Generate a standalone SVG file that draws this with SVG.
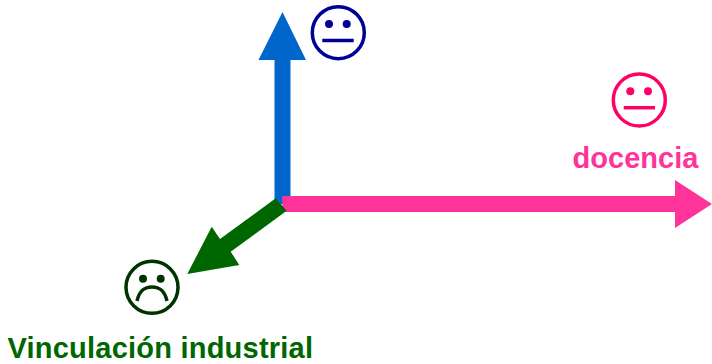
<svg xmlns="http://www.w3.org/2000/svg" width="712" height="364" viewBox="0 0 712 364">
<style>
text{font-family:"Liberation Sans",Arial,sans-serif;font-weight:bold;font-size:29px}
.f{fill:none;stroke-width:3.5}
.m{fill:none;stroke-width:3.5}
</style>
<rect width="712" height="364" fill="#fff"/>
<g id="connectors">
<path fill="#0066cc" d="M282.5 12L306 60H290.5V204H274.5V60H258.5Z"/>
<path fill="#ff3399" d="M282.3 196H675V180L712 204L675 228V212H282.3Z"/>
<path fill="#006600" d="M275.7 198.3L286.7 210.7L230.7 251.7L239.3 265L187.3 274L211.7 226.7L220 239Z"/>
</g>
<g id="node-neutral-blue" stroke="#000099" fill="#000099">
<circle class="f" cx="338.3" cy="32.7" r="26"/>
<circle cx="329" cy="24" r="4" stroke="none"/>
<circle cx="346.7" cy="24" r="4" stroke="none"/>
<path class="m" d="M322.3 40.5H353.7"/>
</g>
<g id="node-docencia" stroke="#ff0066" fill="#ff0066">
<circle class="f" cx="639.3" cy="100" r="26"/>
<circle cx="630.3" cy="91.3" r="4" stroke="none"/>
<circle cx="648" cy="91.3" r="4" stroke="none"/>
<path class="m" d="M623.7 107.7H655"/>
<text x="572.5" y="167.5" textLength="126" lengthAdjust="spacing" fill="#ff3399" stroke="none">docencia</text>
</g>
<g id="node-vinculacion" stroke="#003300" fill="#003300">
<circle class="f" cx="152" cy="287.3" r="26"/>
<circle cx="143" cy="278.7" r="4" stroke="none"/>
<circle cx="160.7" cy="278.7" r="4" stroke="none"/>
<path class="m" fill="none" d="M137 301C140 288 147 287 152 287C157 287 164 288 167 301"/>
<text x="7.5" y="358" textLength="305.5" lengthAdjust="spacing" fill="#006600" stroke="none">Vinculación industrial</text>
</g>
</svg>
